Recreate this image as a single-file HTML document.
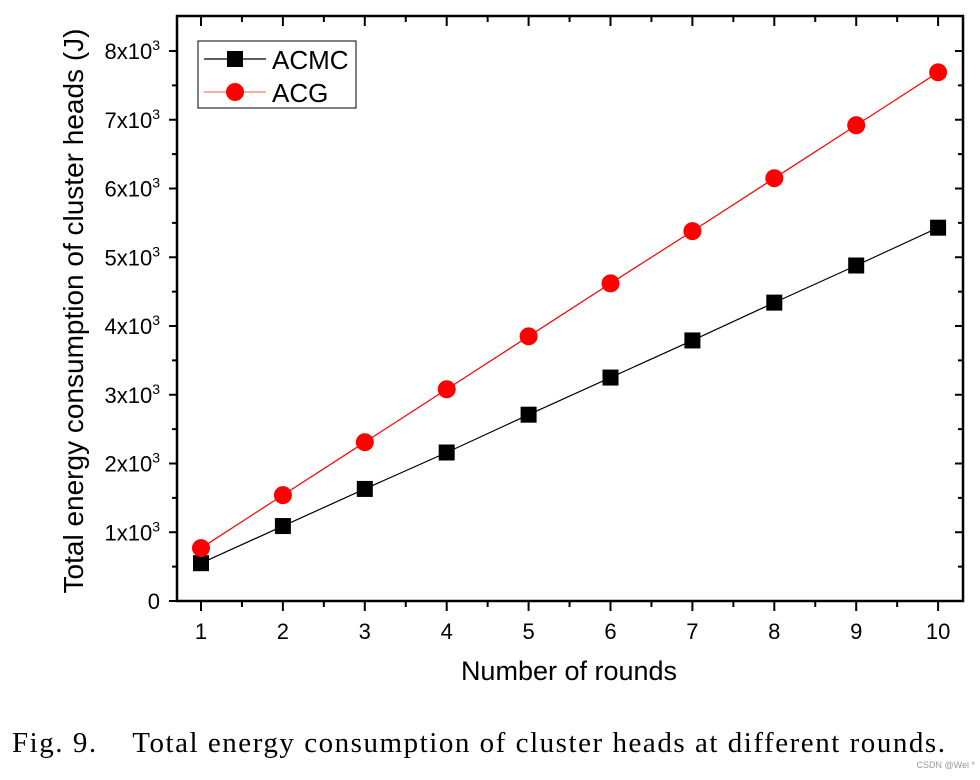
<!DOCTYPE html>
<html><head><meta charset="utf-8"><style>
body{margin:0;background:#fff;width:980px;height:775px;overflow:hidden}
svg{font-family:"Liberation Sans",Arial,sans-serif}
</style></head><body>
<svg id="chart" width="980" height="775" xmlns="http://www.w3.org/2000/svg"></svg>
<script>
const categories=[1,2,3,4,5,6,7,8,9,10];
const acmc=[0.55,1.09,1.63,2.16,2.71,3.25,3.79,4.34,4.88,5.43];
const acg=[0.77,1.54,2.31,3.08,3.85,4.62,5.38,6.15,6.92,7.69];
const yTicks=[0,1,2,3,4,5,6,7,8];
const xTicks=[1,2,3,4,5,6,7,8,9,10];
const NS="http://www.w3.org/2000/svg";
const svg=document.getElementById('chart');
const L=177,R=963,T=16,B=601;
const xs=v=>201+(v-1)*81.9;
const ys=v=>601-v*68.75;
function mk(tag,attrs,parent){const e=document.createElementNS(NS,tag);for(const k in attrs)e.setAttribute(k,attrs[k]);(parent||svg).appendChild(e);return e;}
const frame=mk('rect',{x:L,y:T,width:R-L,height:B-T,fill:'none',stroke:'#000','stroke-width':2.5});


yTicks.forEach(v=>{
  const y=ys(v);
  const t=mk('line',{x1:L-8,x2:L,y1:y,y2:y,stroke:'#000','stroke-width':2});
  
  
  mk('line',{x1:R,x2:R-8,y1:y,y2:y,stroke:'#000','stroke-width':2});
  if(v<8){const ym=ys(v+0.5);mk('line',{x1:L-5,x2:L,y1:ym,y2:ym,stroke:'#000','stroke-width':2});mk('line',{x1:R,x2:R-5,y1:ym,y2:ym,stroke:'#000','stroke-width':2});}
  const tx=mk('text',{x:L-17,y:y+8,'text-anchor':'end','font-size':22});
  
  
  if(v===0){tx.textContent='0';}else{tx.textContent=v+'x10';const s=mk('tspan',{dy:-9,'font-size':14},tx);s.textContent='3';}
});
xTicks.forEach(v=>{
  const x=xs(v);
  const t=mk('line',{x1:x,x2:x,y1:B,y2:B+10,stroke:'#000','stroke-width':2});
  
  
  mk('line',{x1:x,x2:x,y1:T,y2:T+10,stroke:'#000','stroke-width':2});
  if(v<10){const xm=xs(v+0.5);mk('line',{x1:xm,x2:xm,y1:B,y2:B+6,stroke:'#000','stroke-width':2});mk('line',{x1:xm,x2:xm,y1:T,y2:T+6,stroke:'#000','stroke-width':2});}
  const tx=mk('text',{x:x,y:639,'text-anchor':'middle','font-size':22});
  
  
  tx.textContent=v;
});
const xt=mk('text',{x:569,y:680,'text-anchor':'middle','font-size':27});


xt.textContent='Number of rounds';
const yt=mk('text',{x:0,y:0,'text-anchor':'middle','font-size':28,transform:'translate(83,311) rotate(-90)'});


yt.textContent='Total energy consumption of cluster heads (J)';
const l1=mk('polyline',{points:categories.map((c,i)=>xs(c)+','+ys(acmc[i])).join(' '),fill:'none',stroke:'#000','stroke-width':1.2});


const l2=mk('polyline',{points:categories.map((c,i)=>xs(c)+','+ys(acg[i])).join(' '),fill:'none',stroke:'#f00','stroke-width':1.2});


categories.forEach((c,i)=>{
  const r=mk('rect',{x:xs(c)-8,y:ys(acmc[i])-8,width:16,height:16,fill:'#000'});
  
  
  const p=mk('circle',{cx:xs(c),cy:ys(acg[i]),r:9,fill:'#f00'});
  
  
});
const lg=mk('g',{});


mk('rect',{x:198,y:41,width:158,height:67,fill:'#fff',stroke:'#000','stroke-width':1},lg);
mk('line',{x1:204,x2:266,y1:59,y2:59,stroke:'#000','stroke-width':1.2},lg);
mk('rect',{x:227,y:51,width:16,height:16,fill:'#000'},lg);
const t1=mk('text',{x:272,y:69,'font-size':26},lg);t1.textContent='ACMC';
mk('line',{x1:204,x2:266,y1:92,y2:92,stroke:'#f77','stroke-width':1.2},lg);
mk('circle',{cx:235,cy:92,r:9,fill:'#f00'},lg);
const t2=mk('text',{x:272,y:102,'font-size':26},lg);t2.textContent='ACG';
const cap=mk('text',{x:12,y:752,'font-size':29,'font-family':'Liberation Serif,serif',textLength:933,lengthAdjust:'spacing'});


cap.style.whiteSpace='pre';
cap.textContent='Fig. 9.    Total energy consumption of cluster heads at different rounds.';
const wm=mk('text',{x:975,y:768,'font-size':9,'text-anchor':'end',fill:'#999'});


wm.textContent='CSDN @Wei *';
</script>
</body></html>
